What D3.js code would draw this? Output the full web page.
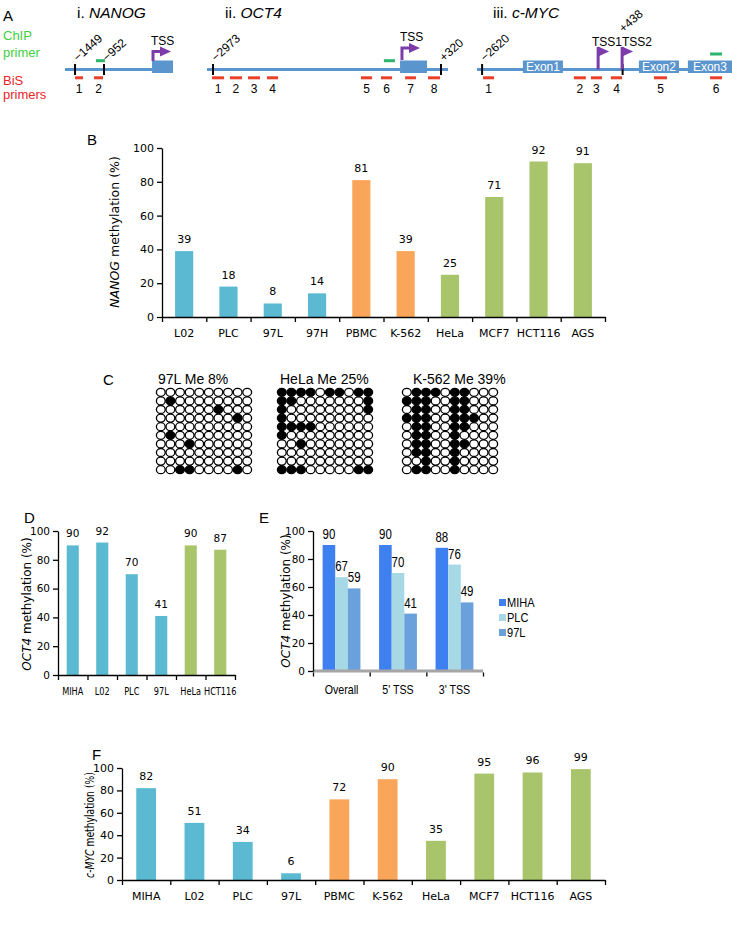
<!DOCTYPE html>
<html><head><meta charset="utf-8">
<script src="https://cdn.jsdelivr.net/npm/d3@7"></script>
<style>body{margin:0;background:#fff} svg{display:block}</style>
</head><body>
<script>
// ---------------- DATA ----------------
const yTicks = [0, 20, 40, 60, 80, 100];

// Panel B: NANOG methylation
const nanogCells = ["L02","PLC","97L","97H","PBMC","K-562","HeLa","MCF7","HCT116","AGS"];
const nanogMeth  = [39, 18, 8, 14, 81, 39, 25, 71, 92, 91];
const nanogType  = ["liver","liver","liver","liver","blood","blood","other","other","other","other"];

// Panel D: OCT4 methylation
const oct4Cells = ["MIHA","L02","PLC","97L","HeLa","HCT116"];
const oct4Meth  = [90, 92, 70, 41, 90, 87];
const oct4Type  = ["liver","liver","liver","liver","other","other"];

// Panel E: OCT4 methylation by region
const regions   = ["Overall","5' TSS","3' TSS"];
const regLines  = ["MIHA","PLC","97L"];
const regMIHA   = [90, 90, 88];
const regPLC    = [67, 70, 76];
const reg97L    = [59, 41, 49];

// Panel F: c-MYC methylation
const mycCells = ["MIHA","L02","PLC","97L","PBMC","K-562","HeLa","MCF7","HCT116","AGS"];
const mycMeth  = [82, 51, 34, 6, 72, 90, 35, 95, 96, 99];
const mycType  = ["liver","liver","liver","liver","blood","blood","other","other","other","other"];

// Panel C: bisulfite sequencing (1 = methylated CpG)
const bisNames = ["97L Me 8%","HeLa Me 25%","K-562 Me 39%"];
const bis97L = ["0000000000","0100000000","0000001000","0000000010","0000000000",
                "0100000000","0001000000","0000000000","0000000000","0011000010"];
const bisHeLa = ["1111011011","1100000001","1000000001","1000000000","1111000000",
                 "1000000000","0010000000","0000000000","0000000000","1110000011"];
const bisK562 = ["0111011000","1110011000","0110011000","1110011100","0110011000",
                 "0110010000","0110011000","0110010000","0010010000","0110010000"];

// Panel A: gene schematics (positions in relative units 0-100 along each gene)
const geneNames   = ["NANOG","OCT4","c-MYC"];
const genePrefix  = ["i. ","ii. ","iii. "];
const nanogMarks  = [[9.3,"\u22121449"],[36.1,"\u2212952"]];
const nanogBoxes  = [[80.6,100,""]];
const nanogTSS    = [81.5];
const nanogChip   = [[28.7,37.0]];
const nanogBis    = [[9.3,16.7],[26.9,35.2]];
const oct4Marks   = [[2.5,"\u22122973"],[97.1,"+320"]];
const oct4Boxes   = [[80.1,91.3,""]];
const oct4TSS     = [80.9];
const oct4Chip    = [[73.4,78.0]];
const oct4Bis     = [[2.1,7.1],[9.5,14.5],[17.0,22.0],[24.9,29.5],[63.9,68.5],[72.2,76.8],[82.2,86.7],[91.7,96.7]];
const mycMarks    = [[2.0,"\u22122620"],[57.1,"+438"]];
const mycBoxes    = [[18.0,33.7,"Exon1"],[63.5,79.2,"Exon2"],[82.7,100,"Exon3"]];
const mycTSS      = [47.5,56.9];
const mycChip     = [[91.4,96.1]];
const mycBis      = [[2.4,6.7],[38.0,42.7],[44.7,49.0],[52.5,56.9],[69.4,74.5],[91.4,96.1]];

// ---------------- STYLE ----------------
const W = 732, H = 932;
const AR = "'Liberation Sans', Arial, sans-serif";
const VF = "'DejaVu Sans', Verdana, sans-serif";
const typeColor = {liver:"#5BBAD2", blood:"#F9A65A", other:"#A9C56B"};
const lineColor = {MIHA:"#3F80F0", PLC:"#A6D8E6", "97L":"#6AA0DC"};
const geneBlue = "#5B95CE", tssPurple = "#7C3DAA", chipGreen = "#2DB56C", bisRed = "#E8402A";
const NARROW = 0.82;

const svg = d3.select("body").append("svg").attr("width", W).attr("height", H);
svg.append("rect").attr("width", W).attr("height", H).attr("fill", "#fff");

function panelLabel(t, x, y) {
  svg.append("text").attr("x", x).attr("y", y).attr("font-family", AR)
     .attr("font-size", 15).attr("fill", "#000").text(t);
}

// ---------------- PANEL A ----------------
panelLabel("A", 3, 21);
svg.append("text").attr("x", 3).attr("y", 40).attr("font-family", AR).attr("font-size", 13).attr("fill", "#3ECF3E").text("ChIP");
svg.append("text").attr("x", 3).attr("y", 57).attr("font-family", AR).attr("font-size", 13).attr("fill", "#3ECF3E").text("primer");
svg.append("text").attr("x", 3).attr("y", 85).attr("font-family", AR).attr("font-size", 13).attr("fill", "#E8262A").text("BiS");
svg.append("text").attr("x", 3).attr("y", 99).attr("font-family", AR).attr("font-size", 13).attr("fill", "#E8262A").text("primers");

const geneDefs = [
  {range:[65,173], title:77,  marks:nanogMarks, boxes:nanogBoxes, tss:nanogTSS, tssType:"bent", chip:nanogChip, chipY:60.7, bis:nanogBis},
  {range:[207,448], title:225, marks:oct4Marks, boxes:oct4Boxes, tss:oct4TSS, tssType:"bent", chip:oct4Chip, chipY:60.7, bis:oct4Bis},
  {range:[477,732], title:493, marks:mycMarks, boxes:mycBoxes, tss:mycTSS, tssType:"flag", chip:mycChip, chipY:54, bis:mycBis}
];
const lineY = 69.5;
geneDefs.forEach((gd, gi) => {
  const sx = d3.scaleLinear().domain([0, 100]).range(gd.range);
  const g = svg.append("g");
  const t = g.append("text").attr("x", gd.title).attr("y", 18).attr("font-family", AR).attr("font-size", 15.5);
  t.append("tspan").text(genePrefix[gi]);
  t.append("tspan").attr("font-style", "italic").text(geneNames[gi]);
  g.append("line").attr("x1", sx(0)).attr("x2", sx(gi === 0 ? 85 : 100))
    .attr("y1", lineY).attr("y2", lineY).attr("stroke", geneBlue).attr("stroke-width", 3);
  g.selectAll("rect.box").data(gd.boxes).join("rect")
    .attr("x", d => sx(d[0])).attr("width", d => sx(d[1]) - sx(d[0]))
    .attr("y", 60.5).attr("height", 12.5).attr("fill", geneBlue);
  g.selectAll("text.box").data(gd.boxes).join("text")
    .attr("x", d => (sx(d[0]) + sx(d[1])) / 2).attr("y", 71).attr("text-anchor", "middle")
    .attr("font-family", AR).attr("font-size", 12).attr("fill", "#fff").text(d => d[2]);
  g.selectAll("line.mark").data(gd.marks).join("line")
    .attr("x1", d => sx(d[0])).attr("x2", d => sx(d[0])).attr("y1", 64).attr("y2", 75)
    .attr("stroke", "#000").attr("stroke-width", 2);
  g.selectAll("text.mark").data(gd.marks).join("text")
    .attr("transform", (d, i) => {
      const up = (gi === 2 && i === 1);
      return `translate(${sx(d[0]) + (up ? 1 : 3)},${up ? 33 : 62}) rotate(-42)`;
    })
    .attr("font-family", AR).attr("font-size", 12).text(d => d[1]);
  g.selectAll("rect.chip").data(gd.chip).join("rect")
    .attr("x", d => sx(d[0])).attr("width", d => sx(d[1]) - sx(d[0]))
    .attr("y", gd.chipY - 1.5).attr("height", 3).attr("fill", chipGreen);
  g.selectAll("rect.bis").data(gd.bis).join("rect")
    .attr("x", d => sx(d[0])).attr("width", d => sx(d[1]) - sx(d[0]))
    .attr("y", 76.3).attr("height", 3).attr("fill", bisRed);
  g.selectAll("text.bis").data(gd.bis).join("text")
    .attr("x", d => (sx(d[0]) + sx(d[1])) / 2).attr("y", 93).attr("text-anchor", "middle")
    .attr("font-family", AR).attr("font-size", 12).text((d, i) => i + 1);
  gd.tss.forEach(p => {
    const x = sx(p);
    if (gd.tssType === "bent") {
      const top = gi === 0 ? 51.5 : 48;
      const base = gi === 0 ? 61 : 60;
      g.append("path").attr("d", `M${x},${base}V${top}H${x + 8}`)
        .attr("fill", "none").attr("stroke", tssPurple).attr("stroke-width", 3);
      g.append("path").attr("d", `M${x + 7},${top - 5}L${x + 18},${top}L${x + 7},${top + 5}Z`).attr("fill", tssPurple);
      g.append("text").attr("x", x - 2).attr("y", top - 7).attr("font-family", AR).attr("font-size", 12).text("TSS");
    } else {
      g.append("line").attr("x1", x).attr("x2", x).attr("y1", lineY).attr("y2", 47)
        .attr("stroke", tssPurple).attr("stroke-width", 3);
      g.append("path").attr("d", `M${x},${46.5}L${x + 11},${51.5}L${x},${56.5}Z`).attr("fill", tssPurple);
    }
  });
  if (gi === 2) {
    g.append("text").attr("x", 592).attr("y", 46).attr("font-family", AR).attr("font-size", 12).text("TSS1TSS2");
  }
});

// ---------------- BAR CHART HELPERS ----------------
function yTitle(x, y, gene, size, squash) {
  const t = svg.append("text").attr("transform", `translate(${x},${y}) rotate(-90) scale(${squash || 1},1)`)
    .attr("text-anchor", "middle").attr("font-family", VF).attr("font-size", size);
  t.append("tspan").attr("font-style", "italic").text(gene);
  t.append("tspan").text(" methylation (%)");
}

function barChart(o) {
  const g = svg.append("g");
  const n = o.cats.length;
  const xb = d3.scaleBand().domain(o.cats).range([o.x0, o.x1]).padding(0);
  const xi = d3.scaleLinear().domain([0, n]).range([o.x0, o.x1]);
  const y = d3.scaleLinear().domain([0, 100]).range([o.y0, o.y100]);
  const bw = xb.bandwidth() * 0.41;
  g.selectAll("rect.bar").data(o.cats).join("rect")
    .attr("x", d => xb(d) + (xb.bandwidth() - bw) / 2).attr("width", bw)
    .attr("y", (d, i) => y(o.vals[i])).attr("height", (d, i) => y(0) - y(o.vals[i]))
    .attr("fill", (d, i) => typeColor[o.types[i]]);
  g.selectAll("text.val").data(o.cats).join("text")
    .attr("x", d => xb(d) + xb.bandwidth() / 2).attr("y", (d, i) => y(o.vals[i]) - 8)
    .attr("text-anchor", "middle").attr("font-family", VF).attr("font-size", o.fs).text((d, i) => o.vals[i]);
  const ya = g.append("g").attr("transform", `translate(${o.x0},0)`)
    .call(d3.axisLeft(y).tickValues(yTicks).tickSize(5).tickSizeOuter(0).tickPadding(3));
  ya.selectAll("text").attr("font-family", VF).attr("font-size", o.fs).attr("fill", "#000");
  ya.selectAll("line,path").attr("stroke", "#000").attr("stroke-width", 1.3);
  const xa = g.append("g").attr("transform", `translate(0,${o.y0})`)
    .call(d3.axisBottom(xi).tickValues(d3.range(n + 1)).tickFormat("").tickSize(5).tickSizeOuter(0));
  xa.selectAll("line,path").attr("stroke", "#000").attr("stroke-width", 1.3);
  g.selectAll("text.cat").data(o.cats).join("text")
    .attr("transform", d => `translate(${xb(d) + xb.bandwidth() / 2},${o.y0 + 20}) scale(${o.catScale},1)`)
    .attr("text-anchor", "middle").attr("font-family", VF).attr("font-size", o.fs).text(d => d);
}

// ---------------- PANEL B ----------------
panelLabel("B", 87, 145);
barChart({cats: nanogCells, vals: nanogMeth, types: nanogType, x0: 162, x1: 605, y0: 317, y100: 148, fs: 11, catScale: 1});
yTitle(119, 232, "NANOG", 12.5);

// ---------------- PANEL C ----------------
panelLabel("C", 103, 385);
const bisData = [bis97L, bisHeLa, bisK562];
const bisLeft = [156, 277, 402];
const bisLabelShift = [2, 3, 11];
bisData.forEach((rows, k) => {
  const g = svg.append("g");
  const cx = d3.scaleBand().domain(d3.range(10)).range([bisLeft[k], bisLeft[k] + 96]);
  const cy = d3.scaleBand().domain(d3.range(10)).range([388, 474]);
  g.append("text").attr("x", bisLeft[k] + bisLabelShift[k]).attr("y", 384).attr("font-family", AR)
    .attr("font-size", 14).text(bisNames[k]);
  const cells = [];
  rows.forEach((r, ri) => r.split("").forEach((c, ci) => cells.push({ri, ci, m: c === "1"})));
  g.selectAll("ellipse").data(cells).join("ellipse")
    .attr("cx", d => cx(d.ci) + cx.bandwidth() / 2).attr("cy", d => cy(d.ri) + cy.bandwidth() / 2)
    .attr("rx", cx.bandwidth() / 2 - 0.4).attr("ry", cy.bandwidth() / 2 - 0.3)
    .attr("fill", d => d.m ? "#000" : "#fff").attr("stroke", "#000").attr("stroke-width", 1.3);
});

// ---------------- PANEL D ----------------
panelLabel("D", 24, 523);
barChart({cats: oct4Cells, vals: oct4Meth, types: oct4Type, x0: 58, x1: 235, y0: 675, y100: 531, fs: 10.5, catScale: 0.78});
yTitle(31, 604, "OCT4", 12);

// ---------------- PANEL E ----------------
panelLabel("E", 259, 523);
(function () {
  const g = svg.append("g");
  const x0 = 313, x1 = 483, y0 = 671, y100 = 531;
  const xg = d3.scaleBand().domain(regions).range([x0, x1]).paddingInner(0.33).paddingOuter(0.17);
  const xs = d3.scaleBand().domain(regLines).range([0, xg.bandwidth()]);
  const xi = d3.scaleLinear().domain([0, regions.length]).range([x0, x1]);
  const y = d3.scaleLinear().domain([0, 100]).range([y0, y100]);
  const series = [regMIHA, regPLC, reg97L];
  const bars = [];
  regions.forEach((r, ri) => regLines.forEach((s, si) => bars.push({r, s, v: series[si][ri]})));
  g.selectAll("rect.bar").data(bars).join("rect")
    .attr("x", d => xg(d.r) + xs(d.s)).attr("width", xs.bandwidth())
    .attr("y", d => y(d.v)).attr("height", d => y(0) - y(d.v)).attr("fill", d => lineColor[d.s]);
  g.selectAll("text.val").data(bars).join("text")
    .attr("transform", d => `translate(${xg(d.r) + xs(d.s) + xs.bandwidth() / 2},${y(d.v) - 6}) scale(${NARROW},1)`)
    .attr("text-anchor", "middle").attr("font-family", AR).attr("font-size", 14).text(d => d.v);
  g.append("line").attr("x1", x0).attr("x2", x1).attr("y1", y0).attr("y2", y0)
    .attr("stroke", "#A6A6A6").attr("stroke-width", 3);
  const ya = g.append("g").attr("transform", `translate(${x0},0)`)
    .call(d3.axisLeft(y).tickValues(yTicks).tickSize(5).tickSizeOuter(0).tickPadding(3));
  ya.selectAll("text").attr("font-family", VF).attr("font-size", 10.5).attr("fill", "#000");
  ya.selectAll("line,path").attr("stroke", "#000").attr("stroke-width", 1.3);
  const xa = g.append("g").attr("transform", `translate(0,${y0 + 1.5})`)
    .call(d3.axisBottom(xi).tickValues(d3.range(regions.length + 1)).tickFormat("").tickSize(4).tickSizeOuter(0));
  xa.select("path").remove();
  xa.selectAll("line").attr("stroke", "#000").attr("stroke-width", 1.3);
  g.selectAll("text.cat").data(regions).join("text")
    .attr("transform", d => `translate(${xg(d) + xg.bandwidth() / 2},${y0 + 23}) scale(${NARROW},1)`)
    .attr("text-anchor", "middle").attr("font-family", AR).attr("font-size", 13).text(d => d);
  const ly = d3.scaleBand().domain(regLines).range([595, 640]);
  g.selectAll("rect.leg").data(regLines).join("rect")
    .attr("x", 499).attr("y", d => ly(d) + ly.bandwidth() / 2 - 3.5).attr("width", 7).attr("height", 7)
    .attr("fill", d => lineColor[d]);
  g.selectAll("text.leg").data(regLines).join("text")
    .attr("transform", d => `translate(507,${ly(d) + ly.bandwidth() / 2 + 4.5}) scale(${NARROW},1)`)
    .attr("font-family", AR).attr("font-size", 13.5).text(d => d);
  yTitle(290, 601, "OCT4", 12);
})();

// ---------------- PANEL F ----------------
panelLabel("F", 92, 760);
barChart({cats: mycCells, vals: mycMeth, types: mycType, x0: 122, x1: 605, y0: 880, y100: 768, fs: 11, catScale: 1});
yTitle(94, 825, "c-MYC", 12.5, 0.74);
</script>
</body></html>
